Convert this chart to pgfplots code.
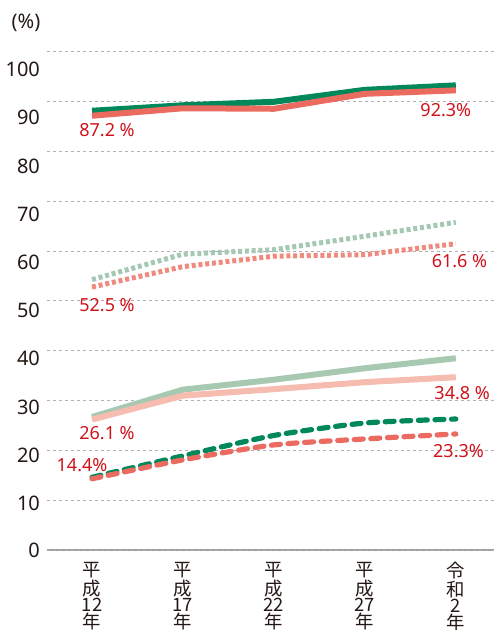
\documentclass[border=0pt]{standalone}
\usepackage{pgfplots}
\pgfplotsset{compat=1.18}
\usepackage{fontspec}
\setmainfont{Noto Sans}
\newfontfamily\jp{Noto Sans CJK JP}
\definecolor{dg}{HTML}{00875A}
\definecolor{rd}{HTML}{EB6B61}
\definecolor{lg}{HTML}{A5C8B2}
\definecolor{sd}{HTML}{F08A7E}
\definecolor{pg}{HTML}{A7C9B1}
\definecolor{ps}{HTML}{F5BCAF}
\definecolor{labred}{HTML}{D0121B}
\definecolor{tc}{HTML}{231815}
\definecolor{gridc}{HTML}{B0B0B0}
\tikzset{lab/.style={text=labred, font=\fontsize{9}{10}\selectfont, inner sep=0pt}}
\begin{document}
\begin{tikzpicture}
\path[use as bounding box] (-23.5pt,-40pt) rectangle (223.5pt,275pt);
\begin{axis}[
  at={(0,0)}, anchor=south west,
  scale only axis, width=223.5pt, height=249pt,
  xmin=-0.495, xmax=4.42, ymin=0, ymax=100,
  axis x line*=bottom, axis y line*=left,
  y axis line style={draw=none},
  x axis line style={color=gray!75, line width=0.8pt},
  major tick length=0pt,
  xtick={0,1,2,3,4},
  xticklabels={{平\\成\\12\\年},{平\\成\\17\\年},{平\\成\\22\\年},{平\\成\\27\\年},{令\\和\\2\\年}},
  xticklabel style={align=center, anchor=north, yshift=-2.5pt, text=tc, font=\jp\fontsize{9.2}{8.35}\selectfont},
  ytick={0,9.39,19.07,28.74,38.41,48.09,57.76,67.43,77.10,86.78,96.45},
  yticklabels={0,10,20,30,40,50,60,70,80,90,100},
  yticklabel style={text=tc, font=\fontsize{10}{12}\selectfont},
  extra y ticks={0,10,20,30,40,50,60,70,80,90,100},
  extra y tick labels={},
  extra y tick style={ymajorgrids=true, major grid style={color=gridc, dash pattern=on 1.5pt off 1.5pt, line width=0.5pt}},
  clip=false,
]
% top pair
\addplot[dg, line width=3pt, line join=round] coordinates {(0,88.2)(1,89.3)(2,90.0)(3,92.4)(4,93.3)};
\addplot[rd, line width=3pt, line join=round] coordinates {(0,87.2)(1,88.7)(2,88.6)(3,91.6)(4,92.3)};
% dotted pair
\addplot[lg, line width=2.5pt, dash pattern=on 2pt off 1.4pt] coordinates {(0,54.3)(1,59.4)(2,60.3)(3,63.0)(4,65.8)};
\addplot[sd, line width=2.5pt, dash pattern=on 2pt off 1.4pt] coordinates {(0,52.8)(1,56.9)(2,59.0)(3,59.3)(4,61.5)};
% pale solid pair
\addplot[pg, line width=3pt, line join=round] coordinates {(0,26.7)(1,32.2)(2,34.2)(3,36.5)(4,38.5)};
\addplot[ps, line width=3pt, line join=round] coordinates {(0,26.2)(1,31.0)(2,32.3)(3,33.7)(4,34.7)};
% dashed pair
\addplot[dg, line width=2.6pt, line cap=round, dash pattern=on 4.5pt off 3.8pt, smooth, tension=0.4] coordinates {(0,14.6)(1,18.9)(2,23.0)(3,25.5)(4,26.3)};
\addplot[rd, line width=2.6pt, line cap=round, dash pattern=on 4.5pt off 3.8pt, smooth, tension=0.4] coordinates {(0,14.3)(1,18.1)(2,21.1)(3,22.3)(4,23.3)};
% labels
\node[lab] at (axis cs:0.165,84.4) {87.2 \%};
\node[lab] at (axis cs:3.89,88.4) {92.3\%};
\node[lab] at (axis cs:0.165,49.1) {52.5 \%};
\node[lab] at (axis cs:4.04,58.0) {61.6 \%};
\node[lab] at (axis cs:0.165,23.5) {26.1 \%};
\node[lab] at (axis cs:4.07,31.6) {34.8 \%};
\node[lab] at (axis cs:-0.11,17.1) {14.4\%};
\node[lab] at (axis cs:4.03,19.8) {23.3\%};
\end{axis}
\node[text=tc, font=\fontsize{10}{12}\selectfont] at (-10.5pt,263.5pt) {(\%)};
\end{tikzpicture}
\end{document}
